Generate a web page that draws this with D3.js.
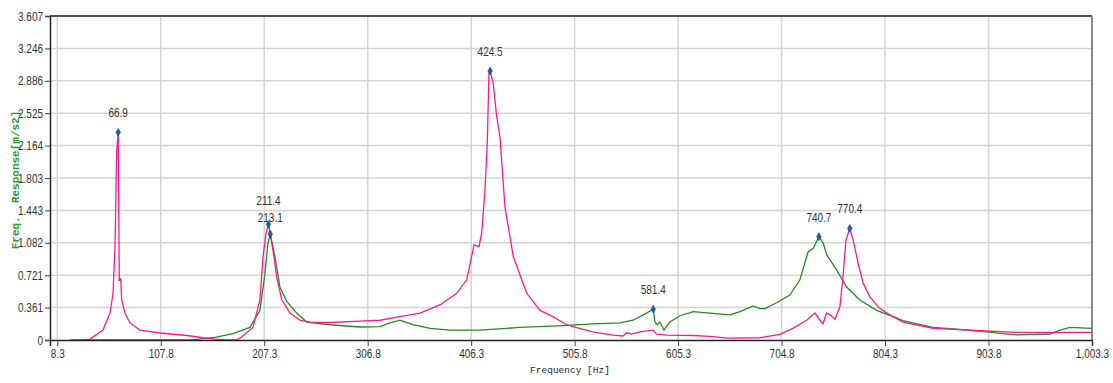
<!DOCTYPE html>
<html>
<head>
<meta charset="utf-8">
<script src="https://cdn.jsdelivr.net/npm/d3@7"></script>
<style>
  html, body { margin: 0; padding: 0; background: #fff; }
  svg { display: block; }
</style>
</head>
<body>
<svg id="chart" width="1113" height="383"></svg>
<script>
// tick labels
const xTicks = [8.3, 107.8, 207.3, 306.8, 406.3, 505.8, 605.3, 704.8, 804.3, 903.8, 1003.3];
const yTicks = [0, 0.361, 0.721, 1.082, 1.443, 1.803, 2.164, 2.525, 2.886, 3.246, 3.607];

// pink series: [frequency, response]
const pinkFreq = [32.1, 39.8, 52.3, 59.0, 61.9, 63.8, 65.4, 66.9, 67.9, 69.3, 70.2, 73.4, 78.2, 87.8, 107.1, 133.0, 148.4, 160, 171.5, 180.1, 184, 196.5, 203.2, 206.1, 209.0, 211.4, 215.7, 219.3, 224.1, 232.1, 241.7, 251.3, 270.5, 299.4, 318.6, 337.8, 357.1, 376.3, 392.4, 402.0, 406.8, 409.0, 413.8, 416.4, 419.6, 421.8, 423.4, 424.5, 427.5, 430.8, 434.0, 438.8, 446.8, 459.7, 472.5, 484.9, 498.1, 504.2, 523.4, 542.6, 552.2, 555.8, 560.6, 568.6, 581.1, 584.6, 594.2, 619.6, 635.9, 651.9, 684.0, 703.2, 715.7, 728.9, 736.9, 741.7, 744.6, 748.1, 751.3, 756.1, 760.9, 764.1, 766.7, 770.4, 773.7, 778.5, 783.3, 789.7, 799.3, 809.0, 821.5, 850.3, 901.9, 930.8, 1003.3];
const pinkResp = [0.0, 0.01, 0.11, 0.30, 0.52, 1.03, 2.10, 2.312, 0.67, 0.68, 0.45, 0.30, 0.19, 0.11, 0.078, 0.05, 0.025, 0.01, 0.0, 0.0, 0.02, 0.14, 0.45, 0.92, 1.19, 1.288, 1.0, 0.70, 0.45, 0.30, 0.22, 0.20, 0.195, 0.21, 0.22, 0.26, 0.30, 0.39, 0.52, 0.67, 0.93, 1.06, 1.04, 1.19, 1.67, 2.19, 2.97, 2.995, 2.86, 2.49, 2.26, 1.48, 0.93, 0.52, 0.33, 0.26, 0.17, 0.15, 0.09, 0.055, 0.045, 0.08, 0.065, 0.09, 0.11, 0.065, 0.055, 0.05, 0.04, 0.02, 0.025, 0.063, 0.13, 0.22, 0.30, 0.22, 0.18, 0.30, 0.28, 0.23, 0.37, 0.74, 1.11, 1.243, 1.11, 0.85, 0.63, 0.48, 0.35, 0.28, 0.20, 0.13, 0.10, 0.085, 0.085];

// green series: [frequency, response]
const greenFreq = [20.5, 140.0, 160.0, 177.3, 193.6, 203.2, 208.0, 210.9, 213.1, 217.6, 222.4, 228.9, 238.5, 248.1, 270.5, 299.4, 318.6, 328.2, 337.8, 350.3, 366.7, 385.9, 414.8, 453.2, 494.6, 523.4, 549.4, 561.9, 571.8, 581.4, 583.0, 585.2, 587.8, 591.7, 597.4, 607.1, 619.9, 635.9, 655.1, 664.7, 677.5, 684.0, 688.8, 700.0, 712.8, 722.4, 730.3, 735.2, 740.7, 744.9, 748.1, 757.7, 767.4, 780.1, 796.2, 812.2, 821.5, 850.3, 873.1, 901.9, 914.7, 930.8, 962.9, 972.5, 982.2, 1003.3];
const greenResp = [0.0, 0.005, 0.03, 0.07, 0.14, 0.33, 0.74, 1.08, 1.18, 0.93, 0.59, 0.43, 0.30, 0.20, 0.17, 0.145, 0.15, 0.19, 0.22, 0.17, 0.13, 0.11, 0.11, 0.14, 0.16, 0.18, 0.19, 0.22, 0.28, 0.342, 0.20, 0.17, 0.20, 0.11, 0.20, 0.27, 0.315, 0.30, 0.28, 0.315, 0.38, 0.35, 0.35, 0.415, 0.50, 0.67, 0.98, 1.02, 1.15, 1.08, 0.95, 0.78, 0.59, 0.445, 0.33, 0.26, 0.215, 0.14, 0.12, 0.09, 0.074, 0.056, 0.067, 0.11, 0.14, 0.13];

// marked peaks
const pinkPeaks = [66.9, 211.4, 424.5, 770.4];
const greenPeaks = [213.1, 581.4, 740.7];

const margin = {left: 50, right: 21, top: 16, bottom: 43};
const svg = d3.select("#chart");
const W = +svg.attr("width"), H = +svg.attr("height");
const innerW = W - margin.left - margin.right;
const innerH = H - margin.top - margin.bottom;

const x = d3.scaleLinear().domain([1.3, 1003.3]).range([margin.left, margin.left + innerW]);
const y = d3.scaleLinear().domain([0, 3.607]).range([margin.top + innerH, margin.top]);

const tickFont = "'Liberation Sans', Arial, sans-serif";
const squeeze = 0.8; // labels in the original are condensed

// grid
const g = svg.append("g");
g.selectAll(".hgrid").data(yTicks.slice(1)).enter().append("line")
  .attr("x1", margin.left).attr("x2", margin.left + innerW)
  .attr("y1", d => y(d)).attr("y2", d => y(d))
  .attr("stroke", "#d4d4d4").attr("stroke-width", 1.5);
g.selectAll(".vgrid").data(xTicks).enter().append("line")
  .attr("x1", d => x(d)).attr("x2", d => x(d))
  .attr("y1", margin.top).attr("y2", margin.top + innerH)
  .attr("stroke", "#d4d4d4").attr("stroke-width", 1.5);

// frame (top and right)
g.append("line").attr("x1", margin.left).attr("x2", margin.left + innerW)
  .attr("y1", margin.top).attr("y2", margin.top).attr("stroke", "#222").attr("stroke-width", 1.5);
g.append("line").attr("x1", margin.left + innerW).attr("x2", margin.left + innerW)
  .attr("y1", margin.top).attr("y2", margin.top + innerH).attr("stroke", "#888").attr("stroke-width", 2);

// series lines
const line = d3.line().x(d => x(d[0])).y(d => y(d[1]));
const pinkData = pinkFreq.map((f, i) => [f, pinkResp[i]]);
const greenData = greenFreq.map((f, i) => [f, greenResp[i]]);

g.append("path").datum(greenData).attr("d", line)
  .attr("fill", "none").attr("stroke", "#248a24").attr("stroke-width", 1.3);
g.append("path").datum(pinkData).attr("d", line)
  .attr("fill", "none").attr("stroke", "#ff1a8c").attr("stroke-width", 1.3);

// axes
const yMinor = d3.range(0, 3.607 + 1e-9, 3.607 / 50);
const yAxis = d3.axisLeft(y).tickValues(yTicks).tickFormat(d => d === 0 ? "0" : d3.format(".3f")(d)).tickSize(5).tickPadding(0);
const yAxisMinor = d3.axisLeft(y).tickValues(yMinor).tickFormat("").tickSize(3);
const xMinor = d3.range(8.3, 1003.3 + 1e-9, 19.9);
const xAxis = d3.axisBottom(x).tickValues(xTicks).tickFormat(d => d3.format(",.1f")(d)).tickSize(6).tickPadding(3);
const xAxisMinor = d3.axisBottom(x).tickValues(xMinor).tickFormat("").tickSize(4);

const yg = svg.append("g").attr("transform", `translate(${margin.left},0)`);
yg.call(yAxisMinor);
yg.call(yAxis);
const xg = svg.append("g").attr("transform", `translate(0,${margin.top + innerH})`);
xg.call(xAxisMinor);
xg.call(xAxis);

[yg, xg].forEach(a => {
  a.selectAll(".domain").attr("stroke", "#222").attr("stroke-width", 1.5);
  a.selectAll(".tick line").attr("stroke", "#444");
  a.selectAll("text").attr("fill", "#333").style("font-family", tickFont).style("font-size", "12.5px");
});
// narrow the tick labels around their anchor
yg.selectAll(".tick text").attr("transform", `translate(-3,0) scale(${squeeze},1)`);
xg.selectAll(".tick text").attr("transform", `scale(${squeeze},1)`);

// peak markers and labels
function peaks(list, data, lift) {
  list.forEach(f => {
    const pt = data.find(d => d[0] === f);
    const px = x(pt[0]), py = y(pt[1]);
    g.append("path").attr("d", d3.symbol(d3.symbolDiamond, 18)())
      .attr("transform", `translate(${px},${py})`)
      .attr("fill", "#1f5fa8").attr("stroke", "#0b3a70").attr("stroke-width", 0.5);
    g.append("text")
      .attr("transform", `translate(${px},${py - (lift[f] || 15)}) scale(${squeeze},1)`)
      .attr("text-anchor", "middle").attr("fill", "#333")
      .style("font-family", tickFont).style("font-size", "12.5px")
      .text(f.toFixed(1));
  });
}
peaks(pinkPeaks, pinkData, {211.4: 19});
peaks(greenPeaks, greenData, {213.1: 12});

// axis titles
svg.append("text").attr("x", 570).attr("y", 373)
  .attr("text-anchor", "middle").attr("fill", "#222")
  .style("font-family", "'Liberation Mono', 'DejaVu Sans Mono', monospace").style("font-size", "9.5px")
  .text("Frequency [Hz]");
svg.append("text").attr("transform", `translate(19,${180}) rotate(-90)`)
  .attr("text-anchor", "middle").attr("fill", "#2e9a2e")
  .style("font-family", "'Liberation Mono', 'DejaVu Sans Mono', monospace").style("font-size", "11px").style("font-weight", "bold")
  .attr("xml:space", "preserve")
  .text("Freq.  Response[m/s2]");
</script>
</body>
</html>
